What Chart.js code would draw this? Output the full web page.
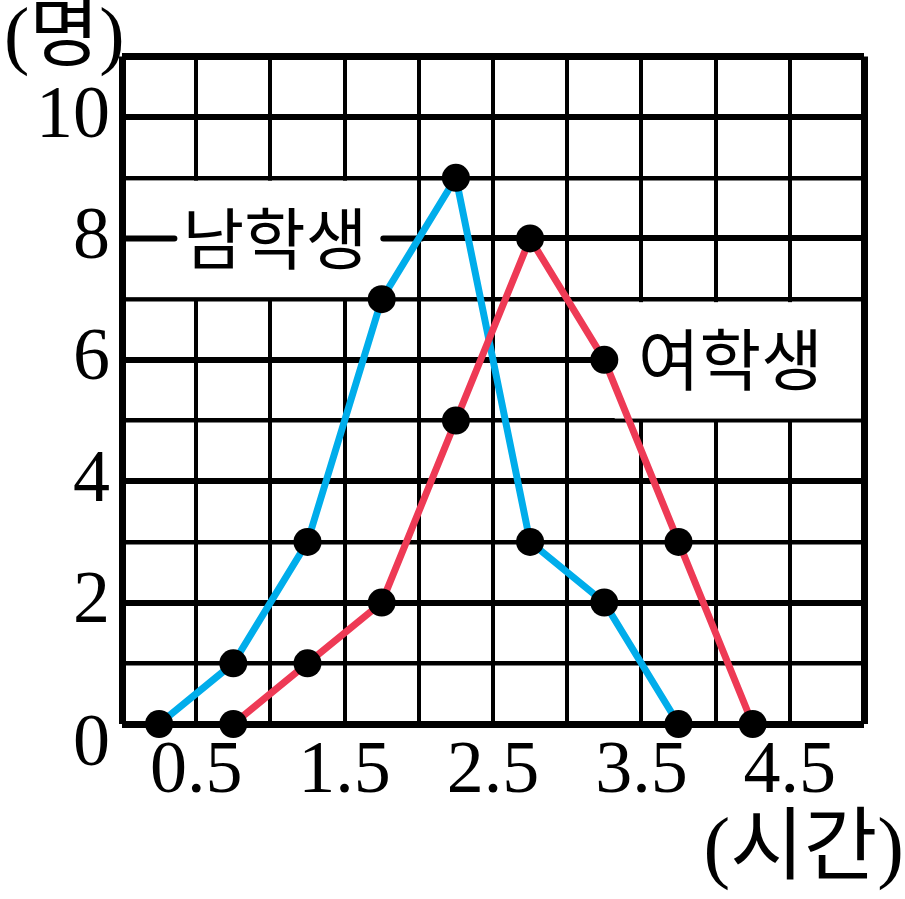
<!DOCTYPE html>
<html lang="ko">
<head>
  <meta charset="UTF-8">
  <title>남학생 여학생 도수분포다각형</title>
  <script src="https://cdn.jsdelivr.net/npm/chart.js"></script>
  <style>
    html, body { margin: 0; padding: 0; background: #fff; }
    #wrap { width: 905px; height: 899px; }
  </style>
</head>
<body>
  <div id="wrap">
    <canvas id="chart" width="905" height="899"></canvas>
  </div>
  <script>
    // 계급값(시간)과 도수(명)
    const maleHours = [0.25, 0.75, 1.25, 1.75, 2.25, 2.75, 3.25, 3.75];
    const maleCounts = [0, 1, 3, 7, 9, 3, 2, 0];
    const femaleHours = [0.75, 1.25, 1.75, 2.25, 2.75, 3.25, 3.75, 4.25];
    const femaleCounts = [0, 1, 2, 5, 8, 6, 3, 0];

    // 눈금 라벨
    const xTickLabels = [0.5, 1.5, 2.5, 3.5, 4.5];
    const yTickLabels = [2, 4, 6, 8, 10];

    const serif = '"Liberation Serif", "Noto Sans CJK KR", serif';
    const sans = '"Noto Sans CJK KR", sans-serif';

    // 범례 상자 (데이터 좌표)
    const maleLabel = { text: '남학생', x0: 0, x1: 2, y0: 7, y1: 9, cx: 1.03, cy: 8 };
    const femaleLabel = { text: '여학생', x0: 3.32, x1: 5, y0: 5, y1: 7, cx: 4.1, cy: 6 };

    const labels = {
      id: 'labels',
      beforeDatasetsDraw(chart) {
        const { ctx, scales: { x, y } } = chart;
        ctx.save();

        // 남학생 상자
        ctx.fillStyle = '#fff';
        ctx.fillRect(x.getPixelForValue(maleLabel.x0) + 4, y.getPixelForValue(maleLabel.y1) + 3,
          x.getPixelForValue(maleLabel.x1) - x.getPixelForValue(maleLabel.x0) - 6,
          y.getPixelForValue(maleLabel.y0) - y.getPixelForValue(maleLabel.y1) - 5);
        ctx.font = '67px ' + sans;
        ctx.textAlign = 'center';
        ctx.textBaseline = 'middle';
        const mcx = x.getPixelForValue(maleLabel.cx);
        const mcy = y.getPixelForValue(maleLabel.cy);
        const mw = ctx.measureText(maleLabel.text).width;
        ctx.strokeStyle = '#000';
        ctx.lineWidth = 6;
        ctx.lineCap = 'round';
        ctx.beginPath();
        ctx.moveTo(x.getPixelForValue(maleLabel.x0), mcy);
        ctx.lineTo(mcx - mw / 2 - 8, mcy);
        ctx.moveTo(mcx + mw / 2 + 16, mcy);
        ctx.lineTo(x.getPixelForValue(maleLabel.x1) + 3, mcy);
        ctx.stroke();
        ctx.fillStyle = '#000';
        ctx.fillText(maleLabel.text, mcx, mcy);

        // 여학생 상자
        ctx.fillStyle = '#fff';
        ctx.fillRect(x.getPixelForValue(femaleLabel.x0), y.getPixelForValue(femaleLabel.y1) + 3,
          x.getPixelForValue(femaleLabel.x1) - x.getPixelForValue(femaleLabel.x0) - 3,
          y.getPixelForValue(femaleLabel.y0) - y.getPixelForValue(femaleLabel.y1) - 5);
        ctx.fillStyle = '#000';
        ctx.fillText(femaleLabel.text, x.getPixelForValue(femaleLabel.cx), y.getPixelForValue(femaleLabel.cy));

        // 축 이름과 원점
        ctx.font = '76px ' + serif;
        ctx.textAlign = 'left';
        ctx.fillText('(명)', 4, 40);
        ctx.textAlign = 'right';
        ctx.font = '80px ' + serif;
        ctx.fillText('(시간)', 904, 852);
        ctx.font = '74px ' + serif;
        ctx.fillText('0', x.left - 12, y.getPixelForValue(0) + 22);
        ctx.restore();
      }
    };

    new Chart(document.getElementById('chart').getContext('2d'), {
      type: 'line',
      data: {
        datasets: [
          {
            label: '여학생',
            data: femaleHours.map((h, i) => ({ x: h, y: femaleCounts[i] })),
            borderColor: '#EE3A55',
            borderWidth: 7,
            pointRadius: 14,
            pointBackgroundColor: '#000',
            pointBorderWidth: 0,
            tension: 0,
            clip: false
          },
          {
            label: '남학생',
            data: maleHours.map((h, i) => ({ x: h, y: maleCounts[i] })),
            borderColor: '#00ADEB',
            borderWidth: 7,
            pointRadius: 14,
            pointBackgroundColor: '#000',
            pointBorderWidth: 0,
            tension: 0,
            clip: false
          }
        ]
      },
      options: {
        responsive: false,
        animation: false,
        layout: { padding: { left: 0, top: 55, right: 41, bottom: 0 } },
        plugins: {
          legend: { display: false },
          tooltip: { enabled: false }
        },
        scales: {
          x: {
            type: 'linear',
            min: 0,
            max: 5,
            afterFit: s => { s.height = 175; },
            border: { display: false },
            grid: {
              color: '#000',
              drawTicks: false,
              lineWidth: c => (c.tick.value === 0 || c.tick.value === 5) ? 7 : 4
            },
            ticks: {
              stepSize: 0.5,
              autoSkip: false,
              maxRotation: 0,
              padding: 4,
              color: '#000',
              font: { family: serif, size: 74 },
              callback: v => xTickLabels.includes(v) ? v.toFixed(1) : ''
            }
          },
          y: {
            min: 0,
            max: 11,
            afterFit: s => { s.width = 122; },
            border: { display: false },
            grid: {
              color: '#000',
              drawTicks: false,
              lineWidth: c => (c.tick.value === 0 || c.tick.value === 11) ? 7 : (c.tick.value % 2 === 0 ? 6 : 4.5)
            },
            ticks: {
              stepSize: 1,
              autoSkip: false,
              padding: 12,
              color: '#000',
              font: { family: serif, size: 74 },
              callback: v => yTickLabels.includes(v) ? String(v) : ''
            }
          }
        }
      },
      plugins: [labels]
    });
  </script>
</body>
</html>
